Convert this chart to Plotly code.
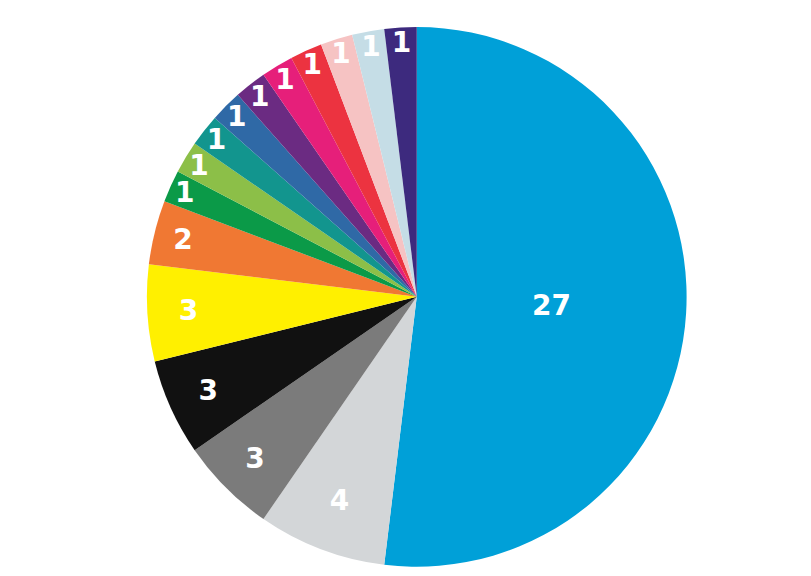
import plotly.graph_objects as go

labels = ["A", "B", "C", "D", "E", "F", "G", "H", "I", "J", "K", "L", "M", "N", "O", "P"]
values = [27, 4, 3, 3, 3, 2, 1, 1, 1, 1, 1, 1, 1, 1, 1, 1]
colors = ["#00a0d8", "#d3d6d8", "#7b7b7b", "#111111", "#fff000", "#f07833",
          "#0b9a48", "#8cbf48", "#12958e", "#2f69a6", "#6b2b82", "#e61f7a",
          "#ec3340", "#f6c3c3", "#c5dde6", "#3d2a7e"]

fig = go.Figure(go.Pie(
    labels=labels,
    values=values,
    sort=False,
    direction="clockwise",
    rotation=0,
    marker=dict(colors=colors, line=dict(width=0)),
    textinfo="value",
    textposition="inside",
    insidetextorientation="horizontal",
    textfont=dict(family="DejaVu Sans", size=28, color="white", weight="bold"),
    domain=dict(x=[0.171, 0.837], y=[0.030, 0.967]),
    hoverinfo="label+value",
))

fig.update_layout(
    width=811, height=576,
    margin=dict(l=0, r=0, t=0, b=0),
    paper_bgcolor="white",
    showlegend=False,
    uniformtext=dict(minsize=26, mode="show"),
)

fig.write_html("out.html")
